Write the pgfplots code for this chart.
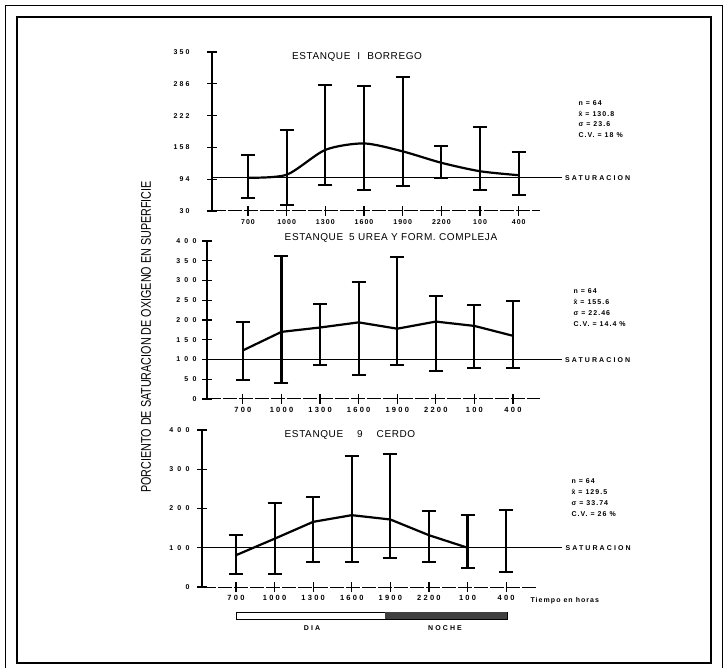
\documentclass[border=0pt]{standalone}
\usepackage{fontspec}
\setmainfont{Liberation Sans}
\newfontfamily\lsA[LetterSpace=15]{Liberation Sans}
\newfontfamily\lsB[LetterSpace=30]{Liberation Sans}
\newfontfamily\lsC[LetterSpace=60]{Liberation Sans}
\newfontfamily\lsT[LetterSpace=6]{Liberation Sans}
\usepackage{graphicx}
\usepackage{pgfplots}
\pgfplotsset{compat=1.18}
\usepackage{pgfplotstable}

\pgfplotstableread{
x m lo hi
0 97 56 142
1 103 43 194
2 153 83 284
3 166 73 281
4 150 81 299
5 127 97 160
6 110 73 199
7 102 63 148
}\datatop
\pgfplotstableread{
x m lo hi
0 123 48 194
1 170 41 363
2 181 86 241
3 194 60 296
4 178 86 360
5 196 72 262
6 185 78 237
7 160 78 247
}\datamid
\pgfplotstableread{
x m lo hi
0 81 32 132
1 123 32 214
2 166 64 230
3 183 64 334
4 172 74 340
5 132 64 194
6 100 49 183
7 117 38 197
}\databot

\pgfplotsset{
  panel/.style={
    scale only axis, anchor=south west,
    axis lines=left, axis line style={-, black},
    every outer y axis line/.append style={line width=2.4pt},
    every outer x axis line/.append style={line width=1pt, dash pattern=on 14pt off 2pt},
    tick align=center, major tick length=10pt,
    tick style={line width=1.2pt, black},
    xtick={0,...,7},
    xticklabels={700,1000,1300,1600,1900,2200,100,400},
    clip=false,
    /pgf/number format/assume math mode=true,
  },
  ebar/.style={draw=none, mark=none, forget plot,
    error bars/.cd, y dir=both, y explicit, error mark=|,
    error bar style={draw=black, line width=2.1pt},
    error mark options={draw=black, line width=2pt, mark size=7pt}},
}

\begin{document}
\begin{tikzpicture}
\useasboundingbox (0pt,0pt) rectangle (724pt,-668pt);
% frame
\draw[line width=0.9pt] (5pt,-5pt) rectangle (722pt,-670pt);
\draw[line width=2.4pt] (17pt,-17pt) rectangle (711pt,-663pt);

% ---------- top panel ----------
\begin{axis}[panel, at={(212pt,-211pt)}, width=328pt, height=159pt,
  xmin=-0.93, xmax=7.55, ymin=30, ymax=350,
  ytick={30,94,158,222,286,350},
  yticklabels={30,94,158,222,286,350},
  yticklabel style={font=\lsB\bfseries\fontsize{7}{7}\selectfont, xshift=-14pt},
  xticklabel style={font=\lsA\bfseries\fontsize{7}{7}\selectfont},
]
\addplot[black, line width=0.8pt] coordinates {(-0.93,97) (8.11,97)};
\addplot[black, line width=2.2pt, smooth, tension=0.45] table[x=x,y=m] {\datatop};
\addplot[ebar] table[x=x, y=m, y error plus expr=\thisrow{hi}-\thisrow{m}, y error minus expr=\thisrow{m}-\thisrow{lo}] {\datatop};
\node[anchor=west, font=\lsB\bfseries\fontsize{7}{7}\selectfont] at (axis cs:8.11,97) {SATURACION};
\end{axis}

% ---------- middle panel ----------
\begin{axis}[panel, at={(207pt,-399pt)}, width=333pt, height=158pt,
  xmin=-0.93, xmax=7.7, ymin=0, ymax=400,
  ytick={0,50,...,400},
  yticklabels={0,50,100,150,200,250,300,350,400},
  yticklabel style={font=\lsC\bfseries\fontsize{7}{7}\selectfont, xshift=-2pt},
  xticklabel style={font=\lsB\bfseries\fontsize{7.5}{7.5}\selectfont},
]
\addplot[black, line width=0.8pt] coordinates {(-0.93,99) (8.26,99)};
\addplot[black, line width=2.2pt] table[x=x,y=m] {\datamid};
\addplot[ebar] table[x=x, y=m, y error plus expr=\thisrow{hi}-\thisrow{m}, y error minus expr=\thisrow{m}-\thisrow{lo}] {\datamid};
\node[anchor=west, font=\lsB\bfseries\fontsize{7}{7}\selectfont] at (axis cs:8.26,99) {SATURACION};
\end{axis}

% ---------- bottom panel ----------
\begin{axis}[panel, at={(202pt,-587pt)}, width=335pt, height=157pt,
  xmin=-0.88, xmax=7.8, ymin=0, ymax=400,
  ytick={0,100,...,400},
  yticklabels={0,100,200,300,400},
  yticklabel style={font=\lsC\bfseries\fontsize{7}{7}\selectfont, xshift=-4pt},
  xticklabel style={font=\lsB\bfseries\fontsize{7.5}{7.5}\selectfont},
]
\addplot[black, line width=0.8pt] coordinates {(-0.88,100) (8.45,100)};
\addplot[black, line width=2.2pt, restrict x to domain=0:6] table[x=x,y=m] {\databot};
\addplot[ebar] table[x=x, y=m, y error plus expr=\thisrow{hi}-\thisrow{m}, y error minus expr=\thisrow{m}-\thisrow{lo}] {\databot};
\node[anchor=west, font=\lsB\bfseries\fontsize{7}{7}\selectfont] at (axis cs:8.45,100) {SATURACION};
\end{axis}

% titles
\node[font=\lsT\fontsize{10}{10}\selectfont] at (357pt,-57pt) {ESTANQUE\hspace{7pt}I\hspace{7pt}BORREGO};
\node[font=\lsT\fontsize{10}{10}\selectfont] at (391pt,-238pt) {ESTANQUE\hspace{6pt}5 UREA Y FORM. COMPLEJA};
\node[font=\lsT\fontsize{10}{10}\selectfont] at (350pt,-435pt) {ESTANQUE\hspace{14pt}9\hspace{14pt}CERDO};

% stats
\node[anchor=north west, align=left, font=\lsA\bfseries\fontsize{7}{10.7}\selectfont] at (575pt,-97pt)
  {n = 64\\ \={x} = 130.8\\ σ = 23.6\\ C.V. = 18 \%};
\node[anchor=north west, align=left, font=\lsA\bfseries\fontsize{7}{11}\selectfont] at (570pt,-285pt)
  {n = 64\\ \={x} = 155.6\\ σ = 22.46\\ C.V. = 14.4 \%};
\node[anchor=north west, align=left, font=\lsA\bfseries\fontsize{7}{11}\selectfont] at (568pt,-475pt)
  {n = 64\\ \={x} = 129.5\\ σ = 33.74\\ C.V. = 26 \%};

% y label
\node[rotate=90] at (146pt,-337pt) {\scalebox{0.77}[1]{\fontsize{14}{14}\selectfont PORCIENTO DE SATURACION DE OXIGENO EN SUPERFICIE}};

% time label and day/night bar
\node[anchor=west, font=\lsA\bfseries\fontsize{7}{7}\selectfont] at (527pt,-601pt) {Tiempo en horas};
\draw[line width=0.8pt, fill=white] (236pt,-612pt) rectangle (507pt,-619pt);
\fill[black!75] (385pt,-612pt) rectangle (507pt,-619pt);
\node[font=\lsB\bfseries\fontsize{7}{7}\selectfont] at (312pt,-628pt) {DIA};
\node[font=\lsB\bfseries\fontsize{7}{7}\selectfont] at (445pt,-628pt) {NOCHE};
\end{tikzpicture}
\end{document}
